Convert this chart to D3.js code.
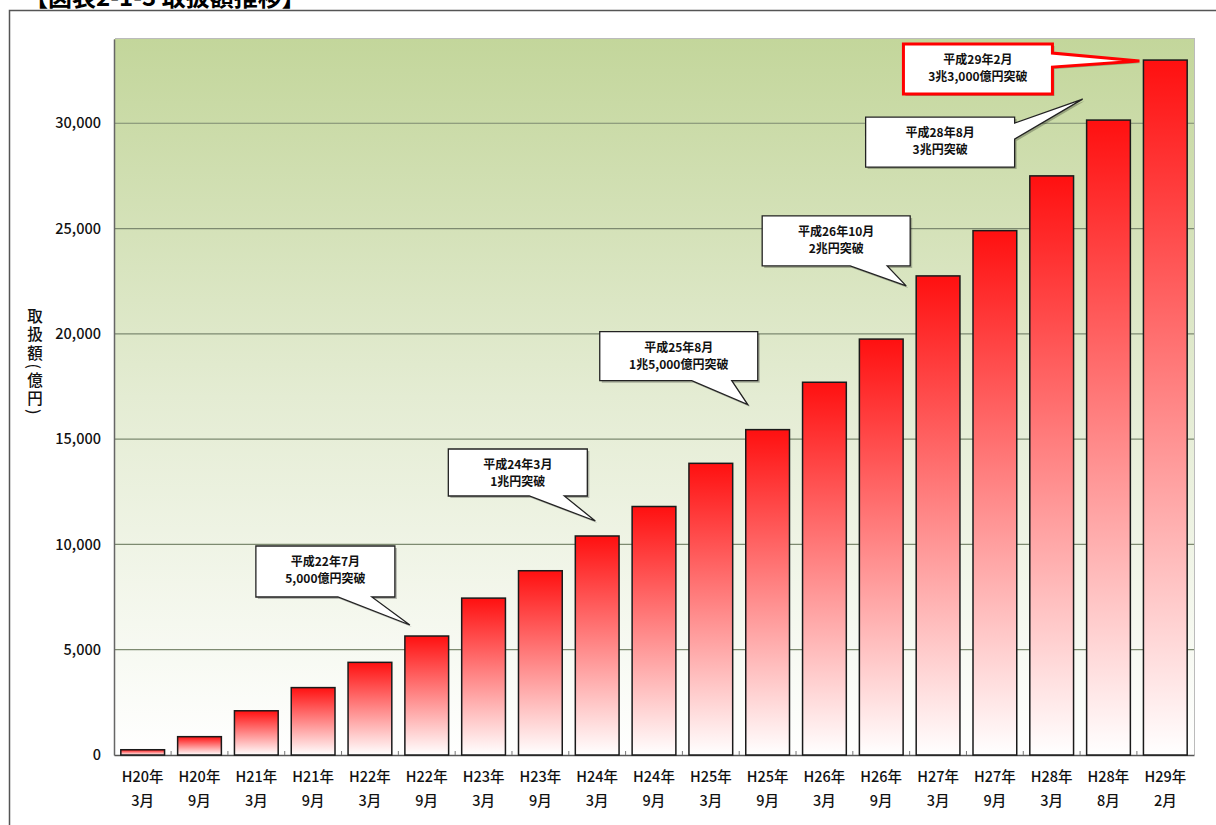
<!DOCTYPE html>
<html><head><meta charset="utf-8">
<script src="https://cdn.jsdelivr.net/npm/d3@7"></script>
<style>body{margin:0;background:#fff}svg{display:block}</style>
</head><body>
<svg id="c" width="1216" height="825"></svg>
<script>
// ---- data ----
const categoriesYear = ["H20年","H20年","H21年","H21年","H22年","H22年","H23年","H23年","H24年","H24年","H25年","H25年","H26年","H26年","H27年","H27年","H28年","H28年","H29年"];
const categoriesMonth = ["3月","9月","3月","9月","3月","9月","3月","9月","3月","9月","3月","9月","3月","9月","3月","9月","3月","8月","2月"];
const values = [250,870,2100,3200,4400,5650,7450,8750,10400,11800,13850,15450,17700,19750,22750,24900,27500,30150,33000];
const yTicks = [0,5000,10000,15000,20000,25000,30000];
const yLabel = "取扱額(億円)";
const titleText = "【図表2-1-3 取扱額推移】";
// callouts: which bar they point at, and their two lines of text
const calloutBar = [5,8,11,14,17,18];
const calloutText = [
  ["平成22年7月","5,000億円突破"],
  ["平成24年3月","1兆円突破"],
  ["平成25年8月","1兆5,000億円突破"],
  ["平成26年10月","2兆円突破"],
  ["平成28年8月","3兆円突破"],
  ["平成29年2月","3兆3,000億円突破"]
];

// ---- layout ----
const svg = d3.select("#c");
const M = {l:114, r:1194, t:39, b:755};
const keys = values.map((v,i)=>i);
const x = d3.scaleBand().domain(keys).range([M.l,M.r]).paddingInner(0.23).paddingOuter(0.12);
const y = d3.scaleLinear().domain([0,34000]).range([M.b,M.t]);
const font = "'Noto Sans CJK JP','Noto Sans',sans-serif";

const defs = svg.append("defs");
const bg = defs.append("linearGradient").attr("id","bg").attr("x1",0).attr("y1",0).attr("x2",0).attr("y2",1);
bg.append("stop").attr("offset","0").attr("stop-color","#c3d69b");
bg.append("stop").attr("offset","0.5").attr("stop-color","#e4ecd3");
bg.append("stop").attr("offset","1").attr("stop-color","#ffffff");
const bg2 = defs.append("linearGradient").attr("id","bar").attr("x1",0).attr("y1",0).attr("x2",0).attr("y2",1);
bg2.append("stop").attr("offset","0").attr("stop-color","#ff1010");
bg2.append("stop").attr("offset","1").attr("stop-color","#ffffff");

// title (cut off at top, as in the source) and outer frame
svg.append("text").attr("x",24).attr("y",6).attr("font-family",font).attr("font-weight","bold")
  .attr("font-size",24).attr("fill","#000").text(titleText);
svg.append("path").attr("d","M9.5,825V10.5H1216").attr("fill","none").attr("stroke","#555").attr("stroke-width",1.5);

// plot background
svg.append("rect").attr("x",M.l+1).attr("y",M.t-1).attr("width",M.r-M.l).attr("height",M.b-M.t+1).attr("fill","#bbb");
svg.append("rect").attr("x",M.l).attr("y",M.t).attr("width",M.r-M.l).attr("height",M.b-M.t).attr("fill","url(#bg)");

// gridlines
svg.append("g").selectAll("line").data(yTicks.filter(d=>d>0)).join("line")
  .attr("x1",M.l).attr("x2",M.r).attr("y1",d=>y(d)).attr("y2",d=>y(d))
  .attr("stroke","#7d8a70").attr("stroke-width",1.2);

// y axis
const ya = svg.append("g").attr("transform",`translate(${M.l},0)`)
  .call(d3.axisLeft(y).tickValues(yTicks).tickSize(0).tickPadding(13).tickFormat(d3.format(",")));
ya.select(".domain").attr("stroke","#666").attr("stroke-width",1.5);
ya.selectAll("text").attr("font-family",font).attr("font-size",14.5).attr("font-weight",500).attr("fill","#111");

// x axis
const xa = svg.append("g").attr("transform",`translate(0,${M.b})`)
  .call(d3.axisBottom(x).tickSize(0).tickFormat(""));
xa.select(".domain").attr("stroke","#555").attr("stroke-width",1.5);
// small inward ticks at band boundaries
svg.append("g").selectAll("line").data(keys.slice(1)).join("line")
  .attr("x1",d=>x(d)-x.step()*x.paddingInner()/2).attr("x2",d=>x(d)-x.step()*x.paddingInner()/2)
  .attr("y1",M.b-4).attr("y2",M.b).attr("stroke","#777").attr("stroke-width",1);

// x labels
const xl = svg.append("g").attr("font-family",font).attr("font-size",14.5).attr("font-weight",500).attr("fill","#111").attr("text-anchor","middle");
xl.selectAll("text.yr").data(keys).join("text").attr("class","yr")
  .attr("x",d=>x(d)+x.bandwidth()/2).attr("y",M.b+27).text(d=>categoriesYear[d]);
xl.selectAll("text.mo").data(keys).join("text").attr("class","mo")
  .attr("x",d=>x(d)+x.bandwidth()/2).attr("y",M.b+51).text(d=>categoriesMonth[d]);

// y label
svg.append("text").attr("x",35).attr("y",308).attr("font-family",font).attr("font-size",15.5).attr("font-weight",500).attr("fill","#111")
  .style("writing-mode","vertical-rl").style("text-orientation","mixed").attr("letter-spacing",3).text(yLabel);

// bars
svg.append("g").selectAll("rect").data(keys).join("rect")
  .attr("x",d=>x(d)).attr("y",d=>y(values[d])).attr("width",x.bandwidth()).attr("height",d=>y(0)-y(values[d]))
  .attr("fill","url(#bar)").attr("stroke","#1a1a1a").attr("stroke-width",1.5);

// callouts: box offset relative to pointer tip (dx of box left, dy of box top), box size, pointer base
const tipOff = [[5,-11],[20,-15],[2,-25],[-10,10],[-4,-21],[-4,1]];
const boxes = [
  {dx:-154,dy:-79,w:139,h:51,side:"b",b1:-72,b2:-38},
  {dx:-147,dy:-72,w:139,h:47,side:"b",b1:-66,b2:-31},
  {dx:-148,dy:-73,w:158,h:49,side:"b",b1:-56,b2:-16},
  {dx:-144,dy:-70,w:148,h:50,side:"b",b1:-56,b2:-19},
  {dx:-217,dy:18,w:149,h:50,side:"r",b1:24,b2:40},
  {dx:-236,dy:-17,w:149,h:50,side:"r",b1:-8,b2:6}
];
const cg = svg.append("g");
calloutBar.forEach((bi,k)=>{
  const tx = x(bi)+tipOff[k][0], ty = y(values[bi])+tipOff[k][1];
  const b = boxes[k];
  const L = tx+b.dx, T = ty+b.dy, R = L+b.w, B = T+b.h;
  let p;
  if (b.side==="b") {
    p = `M${L},${T}H${R}V${B}H${tx+b.b2}L${tx},${ty}L${tx+b.b1},${B}H${L}Z`;
  } else {
    p = `M${L},${T}H${R}V${ty+b.b1}L${tx},${ty}L${R},${ty+b.b2}V${B}H${L}Z`;
  }
  const red = k===calloutBar.length-1;
  cg.append("path").attr("d",p).attr("transform","translate(2,2)").attr("fill","rgba(0,0,0,0.25)");
  cg.append("path").attr("d",p).attr("fill","#fff").attr("stroke",red?"#ff0000":"#222")
    .attr("stroke-width",red?3:1.3).attr("stroke-linejoin","miter");
  calloutText[k].forEach((t,j)=>{
    cg.append("text").attr("x",(L+R)/2).attr("y",T+20+j*17).attr("text-anchor","middle")
      .attr("font-family",font).attr("font-weight","bold").attr("font-size",12).attr("fill","#111").text(t);
  });
});
</script>
</body></html>
